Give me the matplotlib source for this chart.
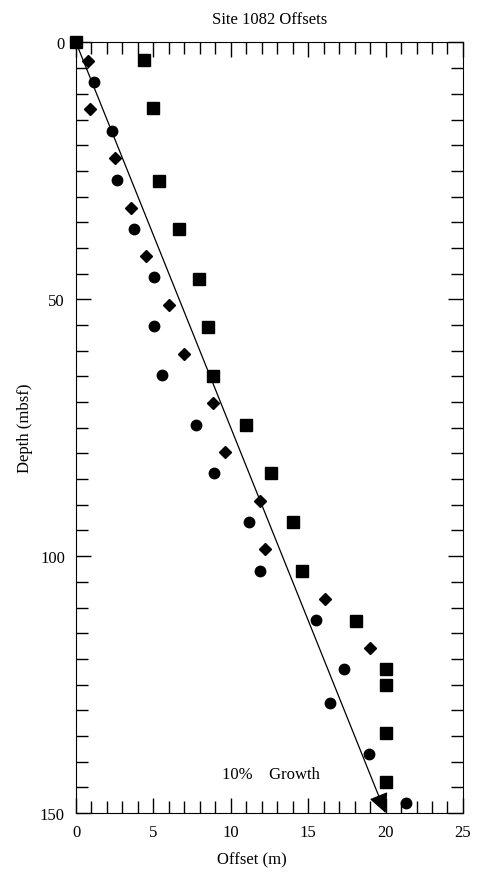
import matplotlib
matplotlib.use("Agg")
import matplotlib.pyplot as plt
from matplotlib.ticker import MultipleLocator

plt.rcParams["font.family"] = ["Liberation Serif", "DejaVu Serif"]
plt.rcParams["font.size"] = 12

# circulos
circ_x = [0, 1.17, 2.33, 2.65, 3.75, 5.05, 5.05, 5.57, 7.77, 8.93, 11.2, 11.9, 15.5, 17.3, 16.4, 18.9, 21.3]
circ_y = [0, 7.7, 17.2, 26.8, 36.3, 45.6, 55.2, 64.7, 74.5, 83.8, 93.3, 102.9, 112.4, 121.9, 128.6, 138.5, 148.0]

# losangos
diam_x = [0, 0.78, 0.91, 2.52, 3.56, 4.53, 6.02, 6.99, 8.87, 9.64, 11.9, 12.2, 16.1, 19.0]
diam_y = [0, 3.6, 12.9, 22.5, 32.2, 41.6, 51.1, 60.6, 70.2, 79.7, 89.2, 98.6, 108.3, 117.9]

# quadrados
quad_x = [0, 4.4, 4.98, 5.37, 6.67, 7.96, 8.54, 8.87, 11.0, 12.6, 14.0, 14.6, 18.1, 20.0, 20.0, 20.0, 20.0]
quad_y = [0, 3.4, 12.7, 26.9, 36.3, 46.0, 55.4, 64.9, 74.5, 83.8, 93.3, 102.9, 112.6, 121.9, 125.0, 134.4, 143.9]

# linha de crescimento 10%
seta_x = [0, 20]
seta_y = [0, 150]

fig = plt.figure(figsize=(4.92, 8.95), dpi=100)
ax = fig.add_axes([0.1545, 0.0905, 0.7865, 0.8609])

ax.plot(circ_x, circ_y, "o", color="black", markersize=7.5, linestyle="none", clip_on=False)
ax.plot(diam_x, diam_y, "D", color="black", markersize=6.5, linestyle="none", clip_on=False)
ax.plot(quad_x, quad_y, "s", color="black", markersize=8, linestyle="none", clip_on=False)

ax.annotate("", xy=(seta_x[1], seta_y[1]), xytext=(seta_x[0], seta_y[0]),
            arrowprops=dict(arrowstyle="-|>", color="black", lw=0.9,
                            mutation_scale=30, shrinkA=0, shrinkB=0))
ax.text(9.4, 142.5, "10%    Growth", fontsize=12, ha="left", va="center")

ax.set_xlim(0, 25)
ax.set_ylim(150, 0)
ax.xaxis.set_major_locator(MultipleLocator(5))
ax.xaxis.set_minor_locator(MultipleLocator(1))
ax.yaxis.set_major_locator(MultipleLocator(50))
ax.yaxis.set_minor_locator(MultipleLocator(5))
ax.tick_params(which="both", direction="in", top=True, right=True, width=1)
ax.tick_params(which="major", length=11, pad=8)
ax.tick_params(which="minor", length=8.5)

ax.set_title("Site 1082 Offsets", fontsize=12, pad=14)
ax.set_xlabel("Offset (m)", fontsize=12)
ax.xaxis.set_label_coords(0.455, -0.05)
ax.set_ylabel("Depth (mbsf)", fontsize=12)
ax.yaxis.set_label_coords(-0.11, 0.5)

fig.savefig("out.png", dpi=100)
